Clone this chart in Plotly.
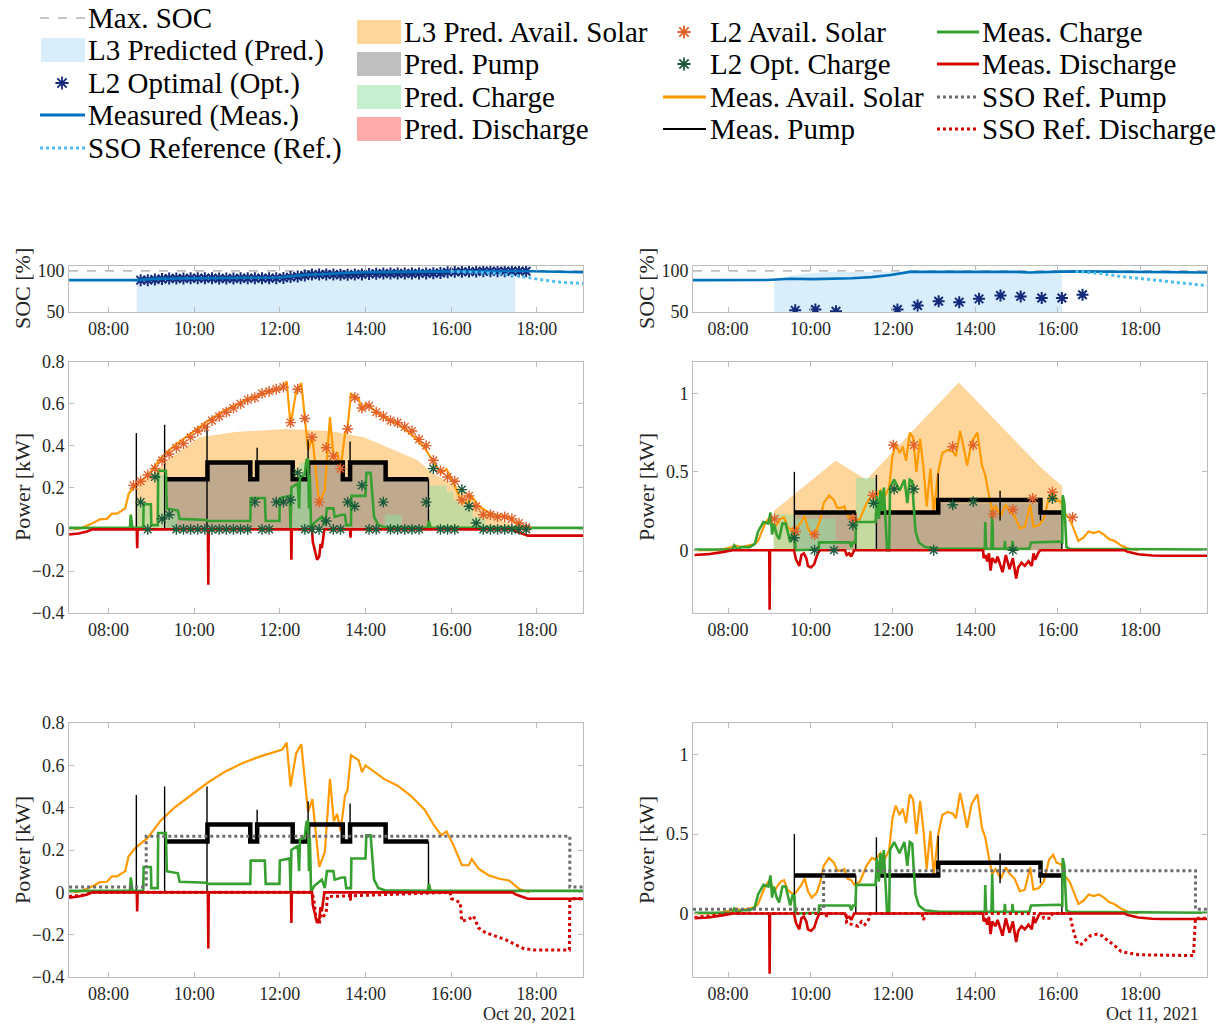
import pandas as pd
import plotly.graph_objects as go

SERIF = "Liberation Serif, Times New Roman, serif"
TXT = "#262626"
FRAME = "#bdbdbd"

DAY_L = "2021-10-20"
DAY_R = "2021-10-11"
MAX_SOC = 100

# ---------------- Oct 20, 2021 (left column) ----------------
l_view_h = [7.078, 19.078]

l_soc_meas_h = [7.08, 8.63, 9.2, 10.8, 12.0, 12.6, 13.13, 13.94, 15.7, 17.6, 19.08]
l_soc_meas = [88.8, 88.8, 90.6, 91, 92, 95.2, 96.8, 98.4, 99.2, 100, 98.4]
l_soc_ref_h = [15.99, 17.06, 17.6, 18.13, 18.6, 19.08]
l_soc_ref = [99.6, 97, 93.6, 89, 86, 84.8]
l_soc_pred_h = [8.66, 8.66, 9.5, 11.0, 12.0, 12.6, 13.2, 14.0, 15.7, 17.0, 17.5, 17.5]
l_soc_pred = [0, 88.8, 90.8, 91, 92, 95, 96.5, 98, 99, 97, 95, 0]
l_soc_opt_start = "08:45"
l_soc_opt = [88.8, 88.8, 89.5, 90.2, 90.8, 90.8, 90.8, 91, 91, 91, 91, 90.8, 90.8, 90.8,
             91, 91, 91, 91, 91, 91.2, 91.5, 92.5, 93.2, 94.5, 95.5, 95.6, 95.6, 95.6,
             95.4, 95.4, 95.6, 95.8, 96.4, 96.6, 96.8, 96.8, 96.8, 96.8, 96.8, 97, 97,
             97.2, 97.5, 98.5, 99, 99, 99.2, 99.4, 99.6, 99.6, 99.6, 99.6, 99.6, 99.6, 99.6]

l_pred_solar_h = [8.63, 8.63, 9.38, 10.13, 10.96, 12.14, 13.17, 13.96, 15.22, 15.55,
                  16.17, 16.72, 17.2, 17.75]
l_pred_solar = [0, 0.20, 0.33, 0.44, 0.465, 0.48, 0.47, 0.44, 0.33, 0.27, 0.2, 0.1, 0.04, 0.0]
l_pred_pump_h = [9.36, 10.31, 11.31, 11.47, 12.30, 12.66, 13.47, 13.64, 14.47, 15.47]
l_pred_pump = [0.24, 0.32, 0.24, 0.32, 0.24, 0.32, 0.24, 0.32, 0.24, 0]
l_pred_charge_h = [8.67, 9.0, 9.17, 9.35, 9.6, 12.3, 12.45, 12.7, 14.45, 14.85, 15.47, 15.9,
                   16.05, 16.2, 16.5, 16.8, 17.0]
l_pred_charge = [0.12, 0.02, 0.26, 0.08, 0, 0.2, 0.32, 0, 0.07, 0, 0.21, 0.18, 0.14, 0.11,
                 0.06, 0.02, 0]

l_l2_start = "08:35"
l_l2_solar = [0.21, 0.23, 0.26, 0.29, 0.33, 0.36, 0.39, 0.41, 0.44, 0.47,
              0.49, 0.52, 0.54, 0.56, 0.58, 0.60, 0.62, 0.63, 0.65, 0.66,
              0.67, 0.68, 0.51, 0.67, 0.53, 0.44, 0.13, 0.39, 0.35, 0.29,
              0.48, 0.63, 0.58, 0.59, 0.56, 0.54, 0.52, 0.51, 0.49, 0.47,
              0.43, 0.40, 0.33, 0.28, 0.25, 0.23, 0.14, 0.16, 0.11, 0.07,
              0.07, 0.06, 0.06, 0.05, 0.03, 0.01]
l_l2_charge = [None, 0.13, 0, 0.25, 0.05, 0.07, 0, 0, 0, 0,
               0, 0, 0, 0, 0, 0, 0, 0.13, 0, 0,
               0.13, 0.13, 0.14, 0.27, 0, 0, 0, 0.04, 0, 0,
               0.13, 0.11, 0.21, 0, 0, 0.13, 0, 0, 0, 0,
               0, 0.13, 0.29, 0, 0, 0, 0.19, 0.11, 0.03, 0,
               0, 0, 0, 0, 0, 0]

l_solar_h = [7.09, 7.33, 7.64, 7.80, 7.96, 8.08, 8.20, 8.39, 8.47, 8.63, 8.91, 9.22, 9.54,
             9.93, 10.33, 10.72, 11.12, 11.51, 11.83, 12.06, 12.16, 12.25, 12.38, 12.50,
             12.66, 12.76, 12.92, 13.05, 13.17, 13.26, 13.34, 13.42, 13.52, 13.58, 13.66,
             13.84, 13.92, 14.00, 14.43, 14.75, 15.06, 15.38, 15.62, 15.77, 15.89, 16.05,
             16.25, 16.41, 16.48, 16.64, 16.88, 17.12, 17.35, 17.59, 17.83]
l_solar = [0, 0.003, 0.03, 0.048, 0.05, 0.075, 0.075, 0.10, 0.17, 0.21, 0.256, 0.34, 0.40,
           0.46, 0.52, 0.57, 0.61, 0.64, 0.66, 0.675, 0.707, 0.50, 0.656, 0.70, 0.38, 0.44,
           0.12, 0.19, 0.536, 0.336, 0.37, 0.29, 0.456, 0.483, 0.648, 0.624, 0.568, 0.60,
           0.536, 0.504, 0.456, 0.39, 0.31, 0.27, 0.288, 0.224, 0.128, 0.128, 0.157, 0.112,
           0.08, 0.064, 0.056, 0.016, 0.0]

# measured pump: step levels (band) plus thin switching transients
l_pump_h = [9.36, 10.31, 11.31, 11.47, 12.30, 12.66, 13.47, 13.64, 14.47, 15.47]
l_pump = [0.24, 0.32, 0.24, 0.32, 0.24, 0.32, 0.24, 0.32, 0.24, 0.24]
l_spike_h = [8.65, 9.31, 10.30, 11.47, 12.66, 13.64, 15.47]
l_spike_lo = [0, 0, 0, 0.24, 0.24, 0.24, 0]
l_spike_hi = [0.46, 0.50, 0.50, 0.39, 0.43, 0.42, 0.24]

l_charge_h = [7.08, 8.50, 8.52, 8.56, 8.81, 8.82, 8.99, 9.0, 9.15, 9.16, 9.34, 9.36, 9.62,
              9.66, 10.30, 10.32, 11.31, 11.32, 11.65, 11.67, 11.99, 12.0, 12.23, 12.25,
              12.27, 12.42, 12.45, 12.47, 12.58, 12.62, 12.66, 12.68, 12.70, 12.73, 12.80,
              12.98, 13.05, 13.10, 13.25, 13.28, 13.45, 13.52, 13.55, 13.66, 13.67, 14.0,
              14.02, 14.12, 14.20, 14.30, 14.45, 15.45, 15.48, 15.52, 19.08]
l_charge = [0.007, 0.007, 0.07, 0.007, 0.007, 0.12, 0.12, 0.02, 0.02, 0.28, 0.28, 0.10,
            0.09, 0.05, 0.045, 0.04, 0.04, 0.15, 0.15, 0.04, 0.04, 0.15, 0.16, 0.0, 0.2,
            0.22, 0.1, 0.25, 0.26, 0.33, 0.34, 0.1, 0.26, 0.0, 0.03, 0.06, 0.02, 0.1, 0.1,
            0.06, 0.07, 0.07, 0.02, 0.02, 0.16, 0.16, 0.27, 0.27, 0.06, 0.02, 0.01, 0.007,
            0.04, 0.007, 0.007]

l_dis_h = [7.08, 7.3, 7.5, 7.62, 8.66, 8.67, 8.68, 10.32, 10.33, 10.34, 12.26, 12.27, 12.28,
           12.75, 12.77, 12.83, 12.87, 12.92, 12.95, 12.98, 13.01, 13.04, 13.64, 13.65, 13.66,
           17.43, 17.51, 17.63, 17.79, 19.08]
l_dis = [-0.025, -0.02, -0.01, 0, 0, -0.09, 0, 0, -0.265, 0, 0, -0.145, 0,
         0, -0.06, -0.12, -0.145, -0.13, -0.07, -0.09, -0.04, 0, 0, -0.04, 0,
         0, -0.01, -0.02, -0.03, -0.03]

l_ref_pump_h = [7.08, 8.88, 18.77, 19.08]
l_ref_pump = [0.025, 0.265, 0.025, 0.025]
l_ref_dis_h = [7.08, 7.45, 7.62, 12.75, 12.79, 12.85, 12.92, 12.97, 13.03, 13.08, 13.11, 15.97,
               16.0, 16.21, 16.25, 16.41, 16.52, 16.64, 16.80, 17.27, 17.43, 17.67, 17.91,
               18.76, 18.77, 19.08]
l_ref_dis = [-0.02, -0.012, 0, 0, -0.03, -0.128, -0.147, -0.1, -0.11, -0.1, -0.02, 0,
             -0.029, -0.048, -0.136, -0.128, -0.112, -0.168, -0.19, -0.224, -0.24, -0.264,
             -0.272, -0.272, -0.03, -0.03]

# ---------------- Oct 11, 2021 (right column) ----------------
r_view_h = [7.151, 19.62]

r_soc_meas_h = [7.15, 8.95, 9.51, 10.07, 11.0, 11.48, 11.94, 12.41, 14.93, 15.31, 16.06, 16.43, 19.62]
r_soc_meas = [88.8, 89, 90.5, 90, 91, 92.5, 95, 98.8, 99, 98, 99.2, 99.5, 98]
r_soc_ref_h = [16.43, 17.0, 17.55, 18.49, 19.62]
r_soc_ref = [99.5, 97, 93.2, 88, 82]
r_soc_pred_h = [9.12, 9.12, 9.6, 10.3, 10.6, 16.1, 16.1]
r_soc_pred = [0, 90, 95, 98.5, 99, 99, 0]
r_soc_opt_h = [9.63, 10.12, 10.62, 12.11, 12.60, 13.11, 13.61, 14.09, 14.61, 15.10, 15.61, 16.10, 16.60]
r_soc_opt = [52, 53, 51, 53, 58, 63, 62, 66, 70, 69, 67, 67, 71]

r_pred_solar_h = [9.11, 9.11, 10.61, 11.36, 12.62, 13.6, 15.58, 16.1, 16.1]
r_pred_solar = [0, 0.25, 0.57, 0.45, 0.80, 1.07, 0.53, 0.41, 0]
r_pred_pump_h = [9.61, 11.10, 11.60, 13.10, 15.58, 16.10]
r_pred_pump = [0.24, 0, 0.24, 0.30, 0.24, 0]
r_pred_charge_h = [9.11, 9.61, 10.61, 11.10, 11.60]
r_pred_charge = [0.23, 0.2, 0, 0.46, 0]

r_l2_h = [9.13, 9.64, 10.10, 11.03, 11.51, 12.01, 12.51, 13.45, 13.95, 14.43, 14.91, 15.39, 15.87, 16.36]
r_l2_solar = [0.20, 0.12, 0.10, 0.20, 0.35, 0.67, 0.67, 0.66, 0.67, 0.23, 0.26, 0.33, 0.37, 0.21]
r_l2_charge_h = [9.61, 10.10, 10.57, 11.03, 11.53, 12.03, 12.51, 12.99, 13.45, 13.95, 14.91, 15.87]
r_l2_charge = [0.08, 0.0, 0.0, 0.16, 0.30, 0.39, 0.39, 0.0, 0.29, 0.31, 0.0, 0.33]

r_solar_h = [7.19, 7.69, 7.94, 8.19, 8.32, 8.53, 8.65, 8.73, 8.82, 8.90, 8.98, 9.04, 9.11,
             9.19, 9.28, 9.36, 9.44, 9.53, 9.61, 9.69, 9.78, 9.86, 9.94, 10.03, 10.15, 10.24,
             10.32, 10.45, 10.57, 10.65, 10.74, 10.82, 10.90, 10.99, 11.07, 11.20, 11.36,
             11.49, 11.57, 11.70, 11.78, 11.91, 11.99, 12.07, 12.16, 12.24, 12.32, 12.41,
             12.49, 12.57, 12.66, 12.74, 12.82, 12.91, 12.99, 13.10, 13.20, 13.33, 13.45,
             13.53, 13.63, 13.72, 13.80, 13.91, 14.05, 14.16, 14.24, 14.33, 14.41, 14.49,
             14.62, 14.74, 14.83, 14.95, 15.08, 15.20, 15.33, 15.41, 15.54, 15.66, 15.79,
             15.89, 15.97, 16.08, 16.16, 16.29, 16.37, 16.50, 16.62, 16.75, 16.87, 17.00,
             17.12, 17.25, 17.37, 17.54, 17.71, 17.96]
r_solar = [0.0, 0.0, 0.01, 0.03, 0.02, 0.03, 0.04, 0.06, 0.12, 0.17, 0.2, 0.2, 0.13,
           0.17, 0.2, 0.21, 0.15, 0.13, 0.12, 0.15, 0.18, 0.22, 0.14, 0.1, 0.13, 0.2,
           0.3, 0.35, 0.32, 0.27, 0.27, 0.28, 0.22, 0.21, 0.18, 0.2, 0.3,
           0.35, 0.34, 0.38, 0.33, 0.4, 0.6, 0.68, 0.62, 0.66, 0.57, 0.75,
           0.72, 0.5, 0.71, 0.53, 0.28, 0.52, 0.24, 0.5, 0.62, 0.64, 0.63,
           0.6, 0.76, 0.65, 0.54, 0.69, 0.75, 0.54, 0.48, 0.35, 0.25, 0.28,
           0.22, 0.29, 0.25, 0.22, 0.14, 0.15, 0.29, 0.15, 0.16, 0.2, 0.34,
           0.37, 0.32, 0.31, 0.24, 0.2, 0.15, 0.06, 0.08, 0.12, 0.11, 0.12,
           0.1, 0.07, 0.06, 0.03, 0.01, 0.0]

r_pump_h = [9.61, 11.10, 11.10, 11.60, 13.10, 15.58, 16.10]
r_pump = [0.24, 0.24, None, 0.24, 0.32, 0.24, 0.24]
r_spike_h = [9.61, 11.10, 11.60, 13.10, 14.60, 15.58, 16.10]
r_spike_lo = [0, 0, 0, 0.24, 0.19, 0.19, 0]
r_spike_hi = [0.50, 0.24, 0.48, 0.49, 0.38, 0.32, 0.24]

r_charge_h = [7.19, 8.11, 8.15, 8.23, 8.32, 8.53, 8.65, 8.73, 8.86, 8.98, 9.03, 9.07, 9.11,
              9.18, 9.24, 9.32, 9.40, 9.44, 9.51, 9.57, 9.61, 9.64, 10.20, 10.21, 10.95,
              10.99, 11.03, 11.09, 11.11, 11.58, 11.61, 11.66, 11.70, 11.74, 11.78, 11.82,
              11.86, 11.91, 11.93, 12.03, 12.16, 12.28, 12.35, 12.41, 12.47, 12.50, 12.55,
              12.63, 12.78, 13.12, 14.23, 14.24, 14.26, 14.39, 14.41, 14.43, 14.70, 14.72,
              14.73, 14.89, 14.90, 14.92, 15.31, 15.35, 16.04, 16.11, 16.12, 16.16, 16.21,
              16.29, 19.62]
r_charge = [0.005, 0.005, 0.03, 0.005, 0.02, 0.02, 0.04, 0.12, 0.18, 0.17, 0.24, 0.1, 0.17,
            0.1, 0.07, 0.17, 0.17, 0.12, 0.05, 0.12, 0.11, 0.0, 0.005, 0.05, 0.05,
            0.02, 0.05, 0.05, 0.18, 0.18, 0.35, 0.2, 0.38, 0.25, 0.4, 0.2,
            0.0, 0.0, 0.4, 0.45, 0.38, 0.45, 0.3, 0.45, 0.44, 0.3, 0.12,
            0.05, 0.02, 0.01, 0.01, 0.18, 0.01, 0.01, 0.25, 0.01, 0.01, 0.06,
            0.01, 0.01, 0.06, 0.01, 0.01, 0.05, 0.055, 0.05, 0.35, 0.3, 0.02,
            0.01, 0.005]

r_dis_h = [7.19, 7.52, 7.86, 8.11, 9.0, 9.01, 9.02, 9.60, 9.65, 9.73, 9.78, 9.84, 9.90,
           9.94, 10.01, 10.09, 10.15, 10.20, 10.24, 10.84, 10.88, 10.94, 10.99, 11.03,
           11.06, 14.19, 14.20, 14.24, 14.29, 14.33, 14.37, 14.41, 14.49, 14.54, 14.66,
           14.74, 14.83, 14.91, 14.99, 15.04, 15.12, 15.20, 15.29, 15.37, 15.41, 15.45,
           15.54, 15.58, 17.62, 17.70, 17.95, 18.29, 18.54, 19.62]
r_dis = [-0.03, -0.025, -0.012, 0, 0, -0.38, 0, 0, -0.06, -0.1, -0.03, -0.02, -0.05,
         -0.1, -0.11, -0.09, -0.04, -0.01, 0, 0, -0.03, -0.02, -0.04, -0.01,
         0, 0, -0.05, -0.03, -0.07, -0.02, -0.13, -0.05, -0.08, -0.04, -0.14,
         -0.03, -0.12, -0.05, -0.18, -0.11, -0.08, -0.1, -0.07, -0.1, -0.02, -0.06,
         -0.01, 0, 0, -0.01, -0.025, -0.033, -0.035, -0.035]

r_ref_pump_h = [7.15, 10.32, 19.34, 19.62]
r_ref_pump = [0.027, 0.27, 0.027, 0.027]
r_ref_dis_h = [7.19, 7.86, 8.11, 10.36, 10.40, 10.44, 10.86, 10.88, 11.03, 11.16, 11.24,
               11.32, 11.41, 11.45, 12.71, 12.74, 12.80, 15.62, 15.66, 15.83, 15.87, 16.29,
               16.37, 16.46, 16.54, 16.66, 16.79, 16.96, 17.08, 17.21, 17.37, 17.54, 17.71,
               17.96, 19.29, 19.34, 19.62]
r_ref_dis = [-0.025, -0.01, 0, 0, -0.02, 0, 0, -0.06, -0.07, -0.08, -0.05,
             -0.07, -0.04, 0, 0, -0.04, 0, 0, -0.03, -0.03, 0, 0,
             -0.1, -0.18, -0.2, -0.17, -0.14, -0.13, -0.14, -0.17, -0.2, -0.24, -0.25,
             -0.26, -0.265, -0.03, -0.03]

# ---------------- colours ----------------
C_PRED_SOC = "#d9eefa"
C_OPT_SOC = "#13297a"
C_MEAS_SOC = "#0072bd"
C_REF_SOC = "#4dbeee"
C_PRED_SOLAR = "rgba(253,172,53,0.5)"
C_PRED_PUMP = "rgba(128,128,128,0.5)"
C_PRED_CHARGE = "rgba(142,224,166,0.5)"
C_PRED_DIS = "rgba(255,85,85,0.5)"
C_L2_SOLAR = "#e2612a"
C_L2_CHARGE = "#1c5a3c"
C_SOLAR = "#ff9a00"
C_PUMP = "#000000"
C_CHARGE = "#36a031"
C_DIS = "#d40000"
C_REF_PUMP = "#6e6e6e"
C_REF_DIS = "#d40000"

W, H = 1225, 1026


def at(day, hours):
    base = pd.Timestamp(day)
    return [None if h is None else (base + pd.Timedelta(hours=h)).strftime("%Y-%m-%d %H:%M:%S")
            for h in hours]


def every10(day, start, n):
    return [t.strftime("%Y-%m-%d %H:%M:%S")
            for t in pd.date_range(f"{day} {start}", periods=n, freq="10min")]


def spikes(day, hs, lo, hi):
    xs, ys = [], []
    for t, a, b in zip(at(day, hs), lo, hi):
        xs += [t, t, None]
        ys += [a, b, None]
    return xs, ys


fig = go.Figure()


def line(x, y, xa, ya, color, width, dash="solid", shape="linear"):
    fig.add_trace(go.Scatter(x=x, y=y, xaxis=xa, yaxis=ya, mode="lines", showlegend=False,
                             line=dict(color=color, width=width, dash=dash, shape=shape),
                             hoverinfo="skip"))


def area(x, y, xa, ya, color, shape="linear"):
    fig.add_trace(go.Scatter(x=x, y=y, xaxis=xa, yaxis=ya, mode="lines", fill="tozeroy",
                             fillcolor=color, showlegend=False, hoverinfo="skip",
                             line=dict(width=0, shape=shape)))


def stars(x, y, xa, ya, color, size=9, width=1.4):
    fig.add_trace(go.Scatter(x=x, y=y, xaxis=xa, yaxis=ya, mode="markers", showlegend=False,
                             hoverinfo="skip",
                             marker=dict(symbol="asterisk-open", size=size, color=color,
                                         line=dict(color=color, width=width))))


def soc_panel(xa, ya, day, view, meas_h, meas, ref_h, ref, pred_h, pred, opt_x, opt):
    line(at(day, view), [MAX_SOC, MAX_SOC], xa, ya, "#8c8c8c", 1, "dash")
    area(at(day, pred_h), pred, xa, ya, C_PRED_SOC)
    stars(opt_x, opt, xa, ya, C_OPT_SOC, size=10, width=2)
    line(at(day, meas_h), meas, xa, ya, C_MEAS_SOC, 2.6)
    line(at(day, ref_h), ref, xa, ya, C_REF_SOC, 3, "dot")


def power_measured(xa, ya, day, solar_h, solar, pump_h, pump, sp, charge_h, charge, dis_h, dis):
    line(at(day, solar_h), solar, xa, ya, C_SOLAR, 2.2)
    line(at(day, pump_h), pump, xa, ya, C_PUMP, 4.5, shape="hv")
    line(sp[0], sp[1], xa, ya, C_PUMP, 1.4)
    line(at(day, charge_h), charge, xa, ya, C_CHARGE, 2.6)
    line(at(day, dis_h), dis, xa, ya, C_DIS, 2.6)


# ---- left column ----
soc_panel("x", "y", DAY_L, l_view_h, l_soc_meas_h, l_soc_meas, l_soc_ref_h, l_soc_ref,
          l_soc_pred_h, l_soc_pred, every10(DAY_L, l_soc_opt_start, len(l_soc_opt)), l_soc_opt)

area(at(DAY_L, l_pred_solar_h), l_pred_solar, "x2", "y2", C_PRED_SOLAR)
area(at(DAY_L, l_pred_pump_h), l_pred_pump, "x2", "y2", C_PRED_PUMP, "hv")
area(at(DAY_L, l_pred_charge_h), l_pred_charge, "x2", "y2", C_PRED_CHARGE, "hv")
l_sp = spikes(DAY_L, l_spike_h, l_spike_lo, l_spike_hi)
power_measured("x2", "y2", DAY_L, l_solar_h, l_solar, l_pump_h, l_pump, l_sp,
               l_charge_h, l_charge, l_dis_h, l_dis)
l_l2_x = every10(DAY_L, l_l2_start, len(l_l2_solar))
stars(l_l2_x, l_l2_solar, "x2", "y2", C_L2_SOLAR)
stars(l_l2_x, l_l2_charge, "x2", "y2", C_L2_CHARGE)

power_measured("x3", "y3", DAY_L, l_solar_h, l_solar, l_pump_h, l_pump, l_sp,
               l_charge_h, l_charge, l_dis_h, l_dis)
line(at(DAY_L, l_ref_pump_h), l_ref_pump, "x3", "y3", C_REF_PUMP, 3, "dot", "hv")
line(at(DAY_L, l_ref_dis_h), l_ref_dis, "x3", "y3", C_REF_DIS, 3, "dot")

# ---- right column ----
soc_panel("x4", "y4", DAY_R, r_view_h, r_soc_meas_h, r_soc_meas, r_soc_ref_h, r_soc_ref,
          r_soc_pred_h, r_soc_pred, at(DAY_R, r_soc_opt_h), r_soc_opt)

area(at(DAY_R, r_pred_solar_h), r_pred_solar, "x5", "y5", C_PRED_SOLAR)
area(at(DAY_R, r_pred_pump_h), r_pred_pump, "x5", "y5", C_PRED_PUMP, "hv")
area(at(DAY_R, r_pred_charge_h), r_pred_charge, "x5", "y5", C_PRED_CHARGE, "hv")
r_sp = spikes(DAY_R, r_spike_h, r_spike_lo, r_spike_hi)
power_measured("x5", "y5", DAY_R, r_solar_h, r_solar, r_pump_h, r_pump, r_sp,
               r_charge_h, r_charge, r_dis_h, r_dis)
stars(at(DAY_R, r_l2_h), r_l2_solar, "x5", "y5", C_L2_SOLAR)
stars(at(DAY_R, r_l2_charge_h), r_l2_charge, "x5", "y5", C_L2_CHARGE)

power_measured("x6", "y6", DAY_R, r_solar_h, r_solar, r_pump_h, r_pump, r_sp,
               r_charge_h, r_charge, r_dis_h, r_dis)
line(at(DAY_R, r_ref_pump_h), r_ref_pump, "x6", "y6", C_REF_PUMP, 3, "dot", "hv")
line(at(DAY_R, r_ref_dis_h), r_ref_dis, "x6", "y6", C_REF_DIS, 3, "dot")

# ---------------- axes ----------------
def px_x(a, b):
    return [a / W, b / W]


def px_y(top, bottom):
    return [1 - bottom / H, 1 - top / H]


TICKFONT = dict(family=SERIF, size=18, color=TXT)
common = dict(showline=True, linecolor=FRAME, linewidth=1, mirror="ticks", ticks="inside",
              ticklen=5, tickcolor=FRAME, showgrid=False, zeroline=False, tickfont=TICKFONT)

L_DOM, R_DOM = px_x(69, 583), px_x(693, 1207)
ROWS = [px_y(266, 312), px_y(362, 613), px_y(723, 977)]


def xaxis(day, view, dom, anchor):
    return dict(common, type="date", range=at(day, view), domain=dom, anchor=anchor,
                tickformat="%H:%M", tick0=f"{day} 00:00", dtick=7200000)


layout = dict(width=W, height=H, margin=dict(l=0, r=0, t=0, b=0, pad=0, autoexpand=False),
              plot_bgcolor="rgba(0,0,0,0)", paper_bgcolor="white", showlegend=False,
              font=dict(family=SERIF, color=TXT))
names = ["", "2", "3", "4", "5", "6"]
for i, n in enumerate(names):
    left = i < 3
    row = i % 3
    day, view, dom = (DAY_L, l_view_h, L_DOM) if left else (DAY_R, r_view_h, R_DOM)
    layout["xaxis" + n] = xaxis(day, view, dom, "y" + n)
    if row == 0:
        yax = dict(common, range=[50, 106], tickvals=[50, 100])
    elif left:
        yax = dict(common, range=[-0.4, 0.8], dtick=0.2)
    else:
        yax = dict(common, range=[-0.4, 1.2], dtick=0.5)
    layout["yaxis" + n] = dict(yax, domain=ROWS[row], anchor="x" + n)

# pixel-space overlay for the key
layout["xaxis7"] = dict(domain=[0, 1], range=[0, W], visible=False, anchor="y7", fixedrange=True)
layout["yaxis7"] = dict(domain=[0, 1], range=[H, 0], visible=False, anchor="x7", fixedrange=True)
fig.update_layout(**layout)

annotations = []
shapes = []

# axis titles and dates
for xc in (22, 646):
    for yc, txt in ((289, "SOC [%]"), (487, "Power [kW]"), (850, "Power [kW]")):
        annotations.append(dict(x=xc, y=yc, xref="x7", yref="y7", text=txt, textangle=-90,
                                showarrow=False, font=dict(family=SERIF, size=22, color=TXT)))
annotations.append(dict(x=579, y=1014, xref="x7", yref="y7", text="Oct 20, 2021",
                        xanchor="right", showarrow=False, font=dict(family=SERIF, size=18, color=TXT)))
annotations.append(dict(x=1201, y=1014, xref="x7", yref="y7", text="Oct 11, 2021",
                        xanchor="right", showarrow=False, font=dict(family=SERIF, size=18, color=TXT)))

# ---------------- key ----------------
KEYFONT = dict(family=SERIF, size=29, color="#000000")


def key_text(x, y, txt):
    annotations.append(dict(x=x, y=y, xref="x7", yref="y7", text=txt, xanchor="left",
                            yanchor="middle", showarrow=False, font=KEYFONT))


def key_line(x0, x1, y, color, width, dash="solid"):
    shapes.append(dict(type="line", xref="x7", yref="y7", x0=x0, x1=x1, y0=y, y1=y,
                       line=dict(color=color, width=width, dash=dash)))


def key_patch(x0, x1, y, color):
    shapes.append(dict(type="rect", xref="x7", yref="y7", x0=x0, x1=x1, y0=y - 12, y1=y + 12,
                       fillcolor=color, line=dict(width=0)))


key_star_x, key_star_y, key_star_c = [], [], []

rows1 = [18, 50, 83, 115, 148]
key_line(40, 85, rows1[0], "#8c8c8c", 1, "dash")
key_patch(41, 85, rows1[1], C_PRED_SOC)
key_star_x.append(62); key_star_y.append(rows1[2]); key_star_c.append(C_OPT_SOC)
key_line(40, 85, rows1[3], C_MEAS_SOC, 3)
key_line(40, 85, rows1[4], C_REF_SOC, 3, "dot")
for y, t in zip(rows1, ["Max. SOC", "L3 Predicted (Pred.)", "L2 Optimal (Opt.)",
                        "Measured (Meas.)", "SSO Reference (Ref.)"]):
    key_text(86, y, t)

rows2 = [32, 64, 97, 129]
for y, c, t in zip(rows2, [C_PRED_SOLAR, C_PRED_PUMP, C_PRED_CHARGE, C_PRED_DIS],
                   ["L3 Pred. Avail. Solar", "Pred. Pump", "Pred. Charge", "Pred. Discharge"]):
    key_patch(357, 401, y, c)
    key_text(402, y, t)

key_star_x += [684, 684]; key_star_y += [rows2[0], rows2[1]]
key_star_c += [C_L2_SOLAR, C_L2_CHARGE]
key_line(663, 706, rows2[2], C_SOLAR, 3)
key_line(663, 706, rows2[3], C_PUMP, 2)
for y, t in zip(rows2, ["L2 Avail. Solar", "L2 Opt. Charge", "Meas. Avail. Solar", "Meas. Pump"]):
    key_text(708, y, t)

key_line(937, 979, rows2[0], C_CHARGE, 3)
key_line(937, 979, rows2[1], C_DIS, 3)
key_line(937, 979, rows2[2], C_REF_PUMP, 3, "dot")
key_line(937, 979, rows2[3], C_REF_DIS, 3, "dot")
for y, t in zip(rows2, ["Meas. Charge", "Meas. Discharge", "SSO Ref. Pump", "SSO Ref. Discharge"]):
    key_text(980, y, t)

fig.add_trace(go.Scatter(x=key_star_x, y=key_star_y, xaxis="x7", yaxis="y7", mode="markers",
                         showlegend=False, hoverinfo="skip",
                         marker=dict(symbol="asterisk-open", size=11, color=key_star_c,
                                     line=dict(color=key_star_c, width=1.8))))

fig.update_layout(annotations=annotations, shapes=shapes)
fig.write_html("out.html")
